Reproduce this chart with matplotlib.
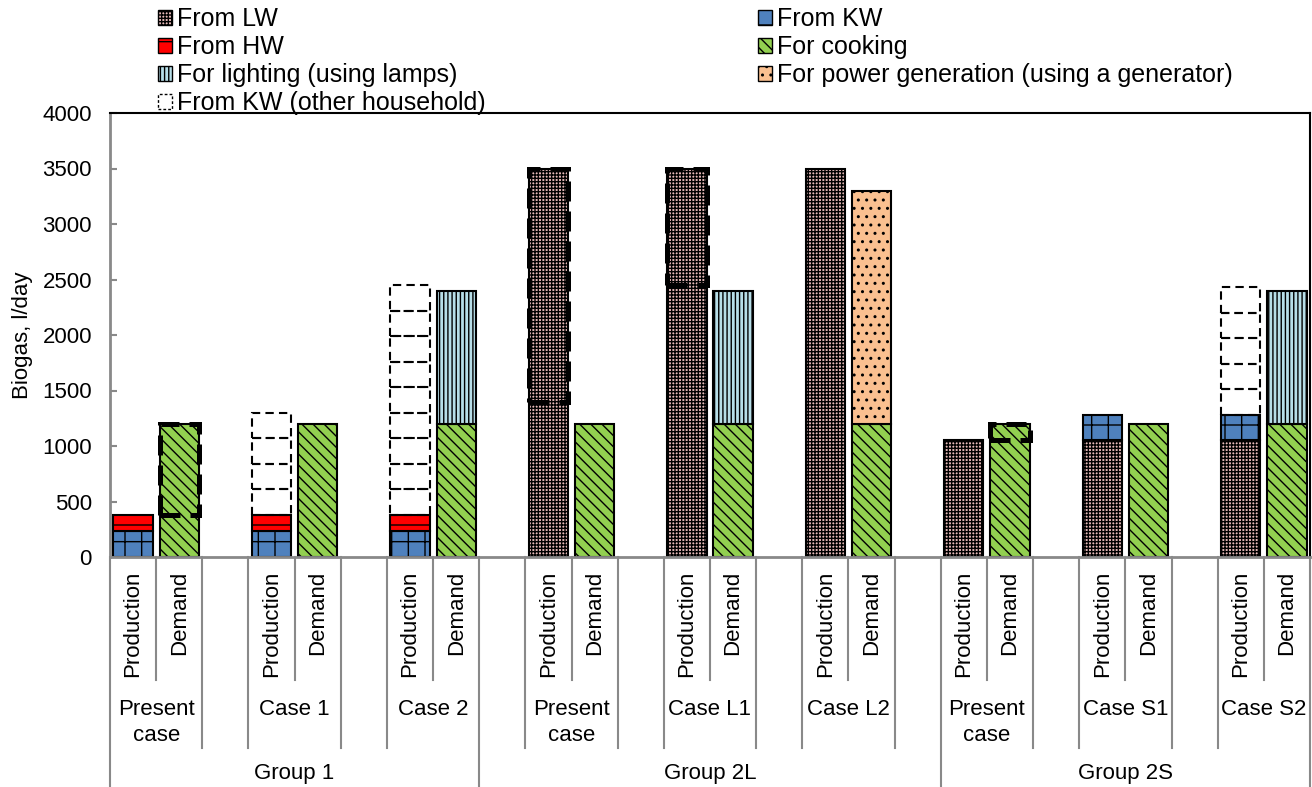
import numpy as np
import matplotlib.pyplot as plt
import matplotlib.transforms as mtransforms
from matplotlib.patches import Patch

plt.rcParams['font.family'] = ['Liberation Sans', 'DejaVu Sans']
plt.rcParams['hatch.linewidth'] = 1.0

cases = ['Present\ncase', 'Case 1', 'Case 2',
         'Present\ncase', 'Case L1', 'Case L2',
         'Present\ncase', 'Case S1', 'Case S2']
groups = ['Group 1', 'Group 2L', 'Group 2S']
group_edges = [0, 8, 18, 26]   # slot boundaries of the three groups

# production side, l/day
from_lw = np.array([0, 0, 0, 3500, 3500, 3500, 1050, 1050, 1050])
from_kw = np.array([230, 230, 230, 0, 0, 0, 0, 230, 230])
from_hw = np.array([150, 150, 150, 0, 0, 0, 0, 0, 0])
other_households = [0, 4, 9, 0, 0, 0, 0, 0, 5]
kw_per_household = 230

# demand side, l/day
for_cooking = np.array([1200] * 9)
for_lighting = np.array([0, 0, 1200, 0, 1200, 0, 0, 0, 1200])
for_power = np.array([0, 0, 0, 0, 0, 2100, 0, 0, 0])

# shortfall / surplus bands: (case, bar, from, to)
balance = [(0, 'Demand', 380, 1200), (3, 'Production', 1400, 3500),
           (4, 'Production', 2450, 3500), (6, 'Demand', 1050, 1200)]

styles = {
    'lw': dict(facecolor='#E6B9B8', hatch='+++++'),
    'kw': dict(facecolor='#4F81BD', hatch='+'),
    'hw': dict(facecolor='#FF0000', hatch='-'),
    'cook': dict(facecolor='#92D050', hatch='\\\\\\'),
    'light': dict(facecolor='#B7DEE8', hatch='||||'),
    'power': dict(facecolor='#FAC090', hatch='..'),
}

fig = plt.figure(figsize=(13.12, 7.87), dpi=100)
ax = fig.add_axes([110 / 1312, 230 / 787, 1200 / 1312, 444 / 787])

case_pos = np.arange(len(cases)) * 3
prod_x = case_pos + 0.5
dem_x = case_pos + 1.5
width = 0.85


def stack(x, vals, bottom, key):
    sel = vals > 0
    ax.bar(x[sel], vals[sel], width, bottom=bottom[sel], edgecolor='black',
           linewidth=1.5, zorder=2, **styles[key])
    return bottom + vals


b = np.zeros(len(cases))
b = stack(prod_x, from_lw, b, 'lw')
b = stack(prod_x, from_kw, b, 'kw')
b = stack(prod_x, from_hw, b, 'hw')
for i, n in enumerate(other_households):
    for k in range(n):
        ax.bar(prod_x[i], kw_per_household, width,
               bottom=b[i] + k * kw_per_household, fill=False,
               edgecolor='black', linewidth=1.5, linestyle=(0, (4, 2.5)),
               zorder=3)

b = np.zeros(len(cases))
b = stack(dem_x, for_cooking, b, 'cook')
b = stack(dem_x, for_lighting, b, 'light')
b = stack(dem_x, for_power, b, 'power')

for i, side, lo, hi in balance:
    x = prod_x[i] if side == 'Production' else dem_x[i]
    ax.bar(x, hi - lo, width, bottom=lo, fill=False, edgecolor='black',
           linewidth=3.6, linestyle=(0, (4, 2)), zorder=4)

ax.set_xlim(0, 26)
ax.set_ylim(0, 4000)
ax.set_yticks(np.arange(0, 4001, 500))
ax.set_xticks([])
ax.tick_params(axis='y', direction='in', length=5, width=1.5,
               color='#898989', labelsize=16, pad=13)
ax.set_ylabel('Biogas, l/day', fontsize=16)
ax.yaxis.set_label_coords(-0.064, 0.5)
for s in ('left', 'bottom'):
    ax.spines[s].set_color('#898989')
    ax.spines[s].set_linewidth(2)
for s in ('top', 'right'):
    ax.spines[s].set_color('black')
    ax.spines[s].set_linewidth(1.5)

# three-row category axis under the plot
trans = mtransforms.blended_transform_factory(ax.transData, ax.transAxes)


def yf(px):
    return (557 - px) / 444


row1, row2, row3 = yf(680), yf(748), yf(800)
sep = dict(color='#898989', lw=1.5, transform=trans, clip_on=False)
case_edges = set()
for p in case_pos:
    case_edges.update([p, p + 2])
for x in range(27):
    if x in group_edges:
        bottom = row3
    elif x in case_edges:
        bottom = row2
    else:
        bottom = row1
    ax.plot([x, x], [0, bottom], **sep)

for i, name in enumerate(cases):
    for x, lab in ((prod_x[i], 'Production'), (dem_x[i], 'Demand')):
        ax.text(x, yf(571), lab, rotation=90, ha='center', va='top',
                fontsize=16, transform=trans)
    ax.text(case_pos[i] + 1, yf(699), name, ha='center', va='top',
            fontsize=16, linespacing=1.3, transform=trans)

for g, name in enumerate(groups):
    ax.text((group_edges[g] + group_edges[g + 1]) / 2, yf(774), name,
            ha='center', va='center', fontsize=16, transform=trans)

# legend in two columns above the plot
left_items = [
    (Patch(edgecolor='black', **styles['lw']), 'From LW'),
    (Patch(edgecolor='black', **styles['hw']), 'From HW'),
    (Patch(edgecolor='black', **styles['light']), 'For lighting (using lamps)'),
    (Patch(fill=False, edgecolor='black', linestyle=(0, (2, 1.5))),
     'From KW (other household)'),
]
right_items = [
    (Patch(edgecolor='black', **styles['kw']), 'From KW'),
    (Patch(edgecolor='black', **styles['cook']), 'For cooking'),
    (Patch(edgecolor='black', **styles['power']),
     'For power generation (using a generator)'),
]
for items, x0 in ((left_items, 158 / 1312), (right_items, 758 / 1312)):
    h, l = zip(*items)
    fig.legend(h, l, loc='upper left', bbox_to_anchor=(x0, 1 - 7 / 787),
               frameon=False, fontsize=18, borderpad=0, borderaxespad=0,
               handlelength=0.55, handleheight=0.55, handletextpad=0.2,
               labelspacing=0.16)

fig.savefig('out.png', dpi=100)
